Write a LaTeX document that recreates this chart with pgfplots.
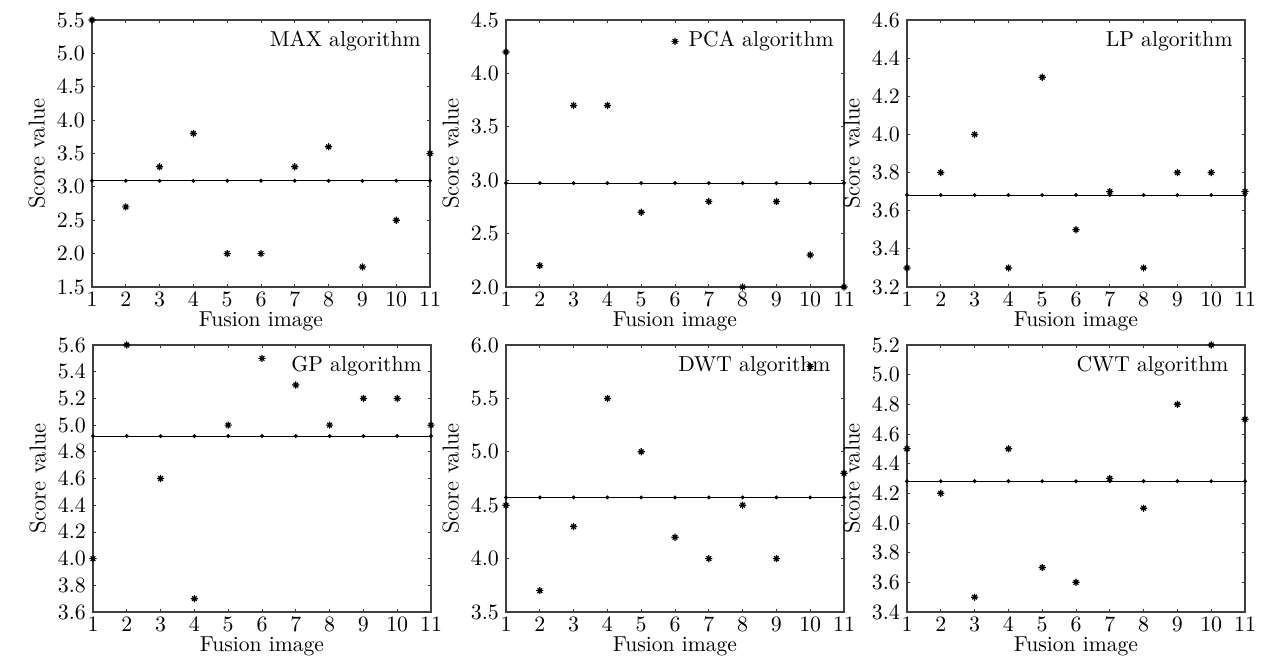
\documentclass[border=0pt]{standalone}
\usepackage{pgfplots}
\pgfplotsset{compat=1.18}

% MATLAB-like '*' marker: a plus and a cross on top of each other
\pgfdeclareplotmark{star8}{%
  \pgfpathmoveto{\pgfqpoint{-\pgfplotmarksize}{0pt}}%
  \pgfpathlineto{\pgfqpoint{\pgfplotmarksize}{0pt}}%
  \pgfpathmoveto{\pgfqpoint{0pt}{-\pgfplotmarksize}}%
  \pgfpathlineto{\pgfqpoint{0pt}{\pgfplotmarksize}}%
  \pgfpathmoveto{\pgfqpoint{-0.65\pgfplotmarksize}{-0.65\pgfplotmarksize}}%
  \pgfpathlineto{\pgfqpoint{0.65\pgfplotmarksize}{0.65\pgfplotmarksize}}%
  \pgfpathmoveto{\pgfqpoint{-0.65\pgfplotmarksize}{0.65\pgfplotmarksize}}%
  \pgfpathlineto{\pgfqpoint{0.65\pgfplotmarksize}{-0.65\pgfplotmarksize}}%
  \pgfusepathqstroke}

% scores of the 11 fusion images for each algorithm
\pgfplotstableread{
x  max  pca  lp   gp   dwt  cwt
1  5.5  4.2  3.3  4.0  4.5  4.5
2  2.7  2.2  3.8  5.6  3.7  4.2
3  3.3  3.7  4.0  4.6  4.3  3.5
4  3.8  3.7  3.3  3.7  5.5  4.5
5  2.0  2.7  4.3  5.0  5.0  3.7
6  2.0  4.3  3.5  5.5  4.2  3.6
7  3.3  2.8  3.7  5.3  4.0  4.3
8  3.6  2.0  3.3  5.0  4.5  4.1
9  1.8  2.8  3.8  5.2  4.0  4.8
10 2.5  2.3  3.8  5.2  5.8  5.2
11 3.5  2.0  3.7  5.0  4.8  4.7
}\scores

% mean of each column
\pgfplotstableread{
x  max    pca    lp     gp     dwt    cwt
1  3.091  2.973  3.682  4.918  4.573  4.282
2  3.091  2.973  3.682  4.918  4.573  4.282
3  3.091  2.973  3.682  4.918  4.573  4.282
4  3.091  2.973  3.682  4.918  4.573  4.282
5  3.091  2.973  3.682  4.918  4.573  4.282
6  3.091  2.973  3.682  4.918  4.573  4.282
7  3.091  2.973  3.682  4.918  4.573  4.282
8  3.091  2.973  3.682  4.918  4.573  4.282
9  3.091  2.973  3.682  4.918  4.573  4.282
10 3.091  2.973  3.682  4.918  4.573  4.282
11 3.091  2.973  3.682  4.918  4.573  4.282
}\means

\pgfplotsset{
  fusionax/.style={
    scale only axis, width=169pt, height=133.5pt,
    anchor=north west,
    xmin=1, xmax=11, xtick={1,...,11},
    axis line style={black!75, line width=0.6pt},
    tick style={black!80, line width=0.4pt},
    tick align=inside, tick pos=both, major tick length=1.6pt,
    xlabel={Fusion image}, ylabel={Score value},
    xlabel style={yshift=4pt}, ylabel style={yshift=-1pt, font=\fontsize{11.5}{13}\selectfont},
    xticklabel style={yshift=1pt},
    yticklabel style={/pgf/number format/.cd, fixed, fixed zerofill, precision=1},
    legend style={draw=none, fill=none, anchor=east, inner sep=0pt},
    legend image code/.code={},
  },
  score/.style={only marks, mark=star8, mark size=1.8pt, black, line width=0.6pt},
  meanline/.style={black, line width=0.5pt, mark=*, mark size=0.7pt},
}

\begin{document}
\begin{tikzpicture}[font=\fontsize{10.8}{13}\selectfont]
\path (0,0) rectangle (634.5pt,-332pt);

\begin{axis}[fusionax, at={(46pt,-10pt)}, ymin=1.5, ymax=5.5, ytick={1.5,2,...,5.5},
  legend style={at={(0.985,0.925)}}]
\addplot[score] table[x=x, y=max] {\scores};
\addlegendentry{MAX algorithm}
\addplot[meanline] table[x=x, y=max] {\means};
\end{axis}

\begin{axis}[fusionax, at={(253pt,-10pt)}, ymin=2, ymax=4.5, ytick={2,2.5,...,4.5},
  legend style={at={(0.982,0.925)}}]
\addplot[score] table[x=x, y=pca] {\scores};
\addlegendentry{PCA algorithm}
\addplot[meanline] table[x=x, y=pca] {\means};
\end{axis}

\begin{axis}[fusionax, at={(453.5pt,-10pt)}, ymin=3.2, ymax=4.6, ytick={3.2,3.4,...,4.61},
  legend style={at={(0.976,0.925)}}]
\addplot[score] table[x=x, y=lp] {\scores};
\addlegendentry{LP algorithm}
\addplot[meanline] table[x=x, y=lp] {\means};
\end{axis}

\begin{axis}[fusionax, at={(46.5pt,-172.5pt)}, ymin=3.6, ymax=5.6, ytick={3.6,3.8,...,5.61},
  legend style={at={(0.985,0.925)}}]
\addplot[score] table[x=x, y=gp] {\scores};
\addlegendentry{GP algorithm}
\addplot[meanline] table[x=x, y=gp] {\means};
\end{axis}

\begin{axis}[fusionax, at={(253pt,-172.5pt)}, ymin=3.5, ymax=6, ytick={3.5,4,...,6},
  legend style={at={(0.973,0.925)}}]
\addplot[score] table[x=x, y=dwt] {\scores};
\addlegendentry{DWT algorithm}
\addplot[meanline] table[x=x, y=dwt] {\means};
\end{axis}

\begin{axis}[fusionax, at={(453.5pt,-172.5pt)}, ymin=3.4, ymax=5.2, ytick={3.4,3.6,...,5.21},
  legend style={at={(0.964,0.925)}}]
\addplot[score] table[x=x, y=cwt] {\scores};
\addlegendentry{CWT algorithm}
\addplot[meanline] table[x=x, y=cwt] {\means};
\end{axis}
\end{tikzpicture}
\end{document}
